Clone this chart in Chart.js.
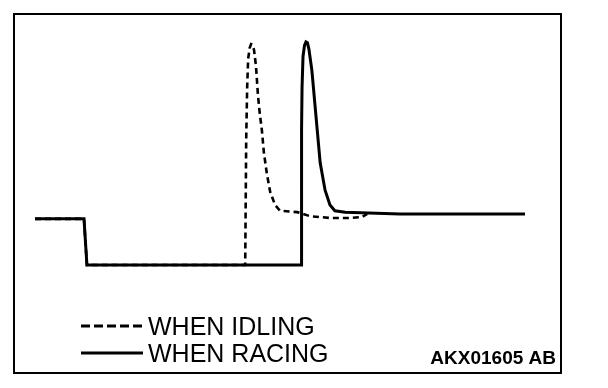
<!DOCTYPE html>
<html>
<head>
<meta charset="utf-8">
<script src="https://cdn.jsdelivr.net/npm/chart.js@4"></script>
<style>
  body { margin: 0; background: #fff; }
  canvas { display: block; }
</style>
</head>
<body>
<canvas id="wave" width="608" height="388"></canvas>
<script>
// waveform samples (time in arbitrary units, signal level in arbitrary units)
var seriesNames = ["WHEN IDLING", "WHEN RACING"];
var figureCode = "AKX01605 AB";

var idlingTime  = [0, 10, 10.6, 42.9, 43.1, 43.3, 43.5, 43.8, 44.1, 44.4, 44.7, 45.1, 45.5, 45.9, 46.3, 46.7, 47.3, 48.0, 49.0, 50.0, 53.5, 56.1, 60.2, 64.3, 66.7, 67.8];
var idlingLevel = [1.03, 1.03, 0, 0, 2.79, 3.97, 4.60, 4.84, 4.93, 4.92, 4.80, 4.44, 3.79, 3.35, 3.01, 2.52, 2.05, 1.63, 1.34, 1.21, 1.18, 1.09, 1.05, 1.05, 1.07, 1.14];

var racingTime  = [0, 10, 10.6, 54.3, 54.4, 54.5, 54.7, 55.0, 55.3, 55.6, 55.9, 56.5, 57.1, 57.6, 58.2, 59.2, 60.2, 61.2, 63.3, 74.5, 100];
var racingLevel = [1.03, 1.03, 0, 0, 3.01, 3.97, 4.66, 4.90, 4.98, 4.96, 4.82, 4.35, 3.62, 3.01, 2.28, 1.67, 1.34, 1.21, 1.18, 1.14, 1.14];

function toPoints(xs, ys) {
    return xs.map(function(x, i) { return { x: x, y: ys[i] }; });
}

// frame, legend and figure code
var decor = {
    id: 'decor',
    afterDraw: function(chart) {
        var c = chart.ctx;
        c.save();
        c.strokeStyle = '#000';
        c.lineWidth = 2;
        c.strokeRect(14, 14, 547, 359);

        c.fillStyle = '#000';
        c.font = '25px "Liberation Sans", Arial, sans-serif';
        c.textBaseline = 'alphabetic';
        var rows = [{ y: 326, dash: [9, 4] }, { y: 353, dash: [] }];
        rows.forEach(function(r, i) {
            c.lineWidth = 3;
            c.setLineDash(r.dash);
            c.beginPath();
            c.moveTo(81, r.y);
            c.lineTo(143, r.y);
            c.stroke();
            c.setLineDash([]);
            c.fillText(seriesNames[i], 148, r.y + 9);
        });

        c.font = 'bold 19px "Liberation Sans", Arial, sans-serif';
        c.textAlign = 'right';
        c.fillText(figureCode, 556, 364);
        c.restore();
    }
};

var ctx = document.getElementById('wave').getContext('2d');
var chart = new Chart(ctx, {
    type: 'line',
    data: {
        datasets: [{
            label: seriesNames[1],
            data: toPoints(racingTime, racingLevel),
            borderColor: '#000',
            borderWidth: 3,
            pointRadius: 0,
            tension: 0,
            clip: false,
            order: 0
        }, {
            label: seriesNames[0],
            data: toPoints(idlingTime, idlingLevel),
            borderColor: '#000',
            borderWidth: 2.6,
            borderDash: [6, 4],
            pointRadius: 0,
            tension: 0,
            clip: false,
            order: 1
        }]
    },
    options: {
        responsive: false,
        animation: false,
        layout: { padding: { left: 35, right: 83, top: 41, bottom: 123 } },
        scales: {
            x: { type: 'linear', min: 0, max: 100, display: false },
            y: { min: 0, max: 5, display: false }
        },
        plugins: {
            legend: { display: false },
            tooltip: { enabled: false }
        }
    },
    plugins: [decor]
});
</script>
</body>
</html>
